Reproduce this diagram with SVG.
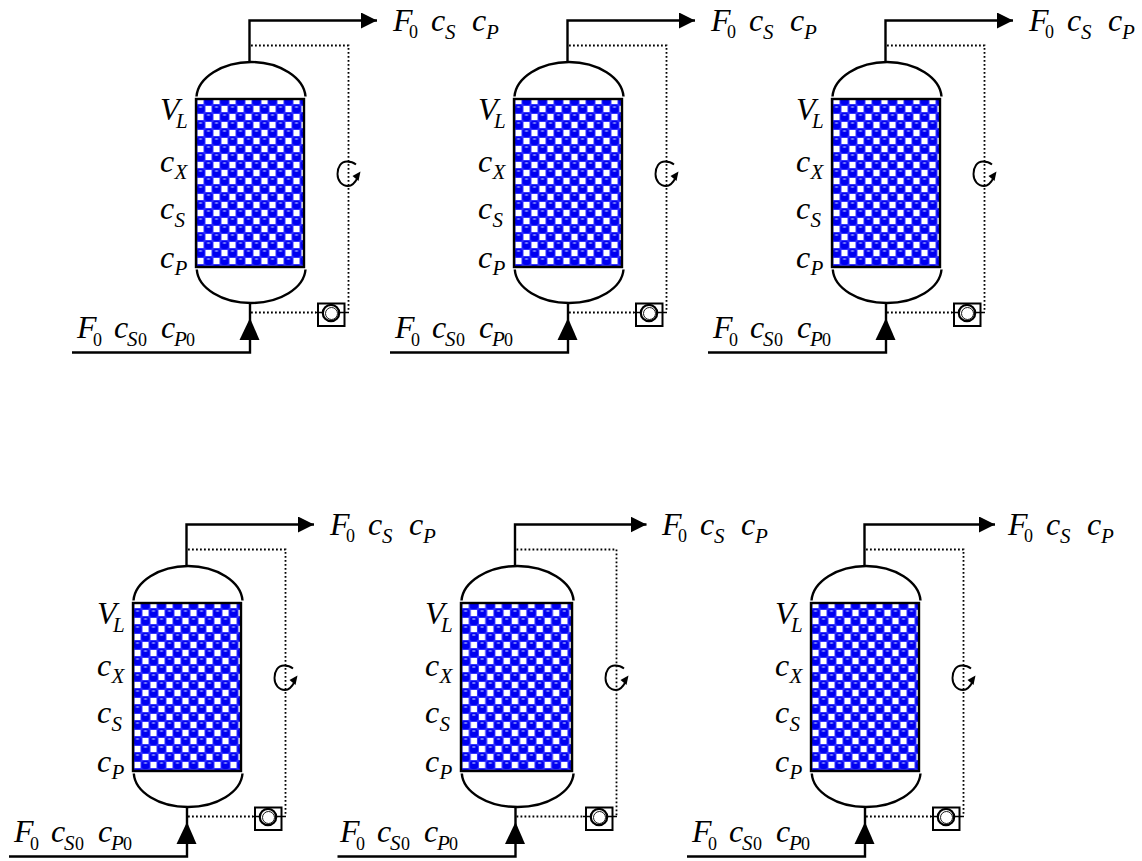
<svg xmlns="http://www.w3.org/2000/svg" width="1142" height="861" viewBox="0 0 1142 861">
<style>
.s{fill:none;stroke:#000;stroke-width:2.4}
.d{fill:none;stroke:#000;stroke-width:1.800;stroke-dasharray:1.800 2.200}
.t{font-family:"Liberation Serif","Times New Roman",serif;font-style:italic;font-size:32px;fill:#000}
.b{font-size:21px}
.u{font-style:normal;font-size:18px}
</style>
<defs>
<pattern id="bed" width="16" height="16" patternUnits="userSpaceOnUse" x="196.500" y="97">
<rect width="16" height="16" fill="#3434ff"/>
<rect x="1" y="1" width="6" height="6" fill="#fff"/>
<rect x="9" y="9" width="6" height="6" fill="#fff"/>
<rect x="8" y="0" width="8" height="8" rx="2.500" fill="#0000f0"/>
<rect x="0" y="8" width="8" height="8" rx="2.500" fill="#0000f0"/>
<ellipse cx="12" cy="2" rx="1.800" ry="0.800" fill="#a8b0ff"/>
<ellipse cx="4" cy="10" rx="1.800" ry="0.800" fill="#a8b0ff"/>
</pattern>
<marker id="ah" markerUnits="userSpaceOnUse" markerWidth="18" markerHeight="16" refX="16" refY="8" orient="auto"><path d="M0 0L16 8L0 16Z" fill="#000"/></marker>
<g id="vessel">
<rect x="196" y="99" width="108" height="168" fill="url(#bed)" stroke="#000" stroke-width="2.400"/>
<path class="s" d="M196.500 96.500C198 78 222 62 251 62C280 62 304 78 305.500 96.500"/>
<path class="s" d="M196.800 269.500C198 288 222 303 251 303C280 303 304 288 305.500 269.500"/>
</g>
<g id="feed">
<path class="s" d="M72 352.500H250V303"/>
<path d="M250 318L239.500 340H259.500Z" fill="#000"/>
</g>
<g id="pump">
<rect x="318" y="303.500" width="26.500" height="22.500" fill="#fff" stroke="#000" stroke-width="2"/>
<path d="M315 312.500H323M339 312.500H349" stroke="#000" stroke-width="1.500"/>
<circle cx="331" cy="313" r="8.200" fill="#fff" stroke="#000" stroke-width="2.200"/>
<circle cx="331.500" cy="313.500" r="6" fill="#fff" stroke="#000" stroke-width="0.900"/>
</g>
<g id="rotor">
<path d="M356 164.500C353 162 350 161.500 347 161.500C341 161.500 337.500 167 337.500 174C337.500 181 342 186 348 186C352 186 355 183 358 177" fill="none" stroke="#000" stroke-width="1.900"/>
<path d="M360.500 171.500L358.500 181L352.500 176Z" fill="#000"/>
</g>
<g id="vlabels">
<text class="t" x="160" y="120">V</text><text class="t b" x="176" y="128">L</text>
<text class="t" x="160" y="172">c</text><text class="t b" x="174.500" y="179">X</text>
<text class="t" x="160" y="219">c</text><text class="t b" x="174.500" y="227">S</text>
<text class="t" x="160" y="268">c</text><text class="t b" x="174.500" y="275">P</text>
</g>
<g id="outlabel">
<text class="t" x="393" y="31">F</text><text class="t u" x="409" y="38">0</text>
<text class="t" x="431" y="31">c</text><text class="t b" x="445" y="39">S</text>
<text class="t" x="472" y="31">c</text><text class="t b" x="486" y="39">P</text>
</g>
<g id="inlabel">
<text class="t" x="77" y="338">F</text><text class="t u" x="93" y="346">0</text>
<text class="t" x="114" y="338">c</text><text class="t b" x="127" y="346">S</text><text class="t u" x="138" y="346">0</text>
<text class="t" x="161" y="338">c</text><text class="t b" x="174" y="346">P</text><text class="t u" x="186" y="346">0</text>
</g>
</defs>
<g id="connectors">
<g transform="translate(0 0)"><path class="s" d="M249.500 62V20.500H377" marker-end="url(#ah)"/><path class="d" d="M251 45.500H348.500V312M251 312.500H316"/><use href="#feed"/></g>
<g transform="translate(318 0)"><path class="s" d="M249.500 62V20.500H377" marker-end="url(#ah)"/><path class="d" d="M251 45.500H348.500V312M251 312.500H316"/><use href="#feed"/></g>
<g transform="translate(636 0)"><path class="s" d="M249.500 62V20.500H377" marker-end="url(#ah)"/><path class="d" d="M251 45.500H348.500V312M251 312.500H316"/><use href="#feed"/></g>
<g transform="translate(-63 504)"><path class="s" d="M249.500 62V20.500H377" marker-end="url(#ah)"/><path class="d" d="M251 45.500H348.500V312M251 312.500H316"/><use href="#feed"/></g>
<g transform="translate(265.500 504)"><path class="s" d="M249.500 62V20.500H381" marker-end="url(#ah)"/><path class="d" d="M251 45.500H351V312M251 312.500H319"/><use href="#feed"/></g>
<g transform="translate(615 504)"><path class="s" d="M249.500 62V20.500H380" marker-end="url(#ah)"/><path class="d" d="M251 45.500H348.500V312M251 312.500H316"/><use href="#feed"/></g>
</g>
<g id="r1"><use href="#vessel"/><use href="#pump"/><use href="#rotor"/><use href="#vlabels"/><use href="#outlabel"/><use href="#inlabel"/></g>
<g id="r2" transform="translate(318 0)"><use href="#vessel"/><use href="#pump"/><use href="#rotor"/><use href="#vlabels"/><use href="#outlabel"/><use href="#inlabel"/></g>
<g id="r3" transform="translate(636 0)"><use href="#vessel"/><use href="#pump"/><use href="#rotor"/><use href="#vlabels"/><use href="#outlabel"/><use href="#inlabel"/></g>
<g id="r4" transform="translate(-63 504)"><use href="#vessel"/><use href="#pump"/><use href="#rotor"/><use href="#vlabels"/><use href="#outlabel"/><use href="#inlabel"/></g>
<g id="r5" transform="translate(265 504)"><use href="#vessel" transform="translate(196 0) scale(1.028 1) translate(-196 0)"/><use href="#pump" x="3"/><use href="#rotor" x="3"/><use href="#vlabels"/><use href="#outlabel" x="4"/><use href="#inlabel" x="-2"/></g>
<g id="r6" transform="translate(615 504)"><use href="#vessel"/><use href="#pump"/><use href="#rotor"/><use href="#vlabels"/><use href="#outlabel"/><use href="#inlabel"/></g>
</svg>
